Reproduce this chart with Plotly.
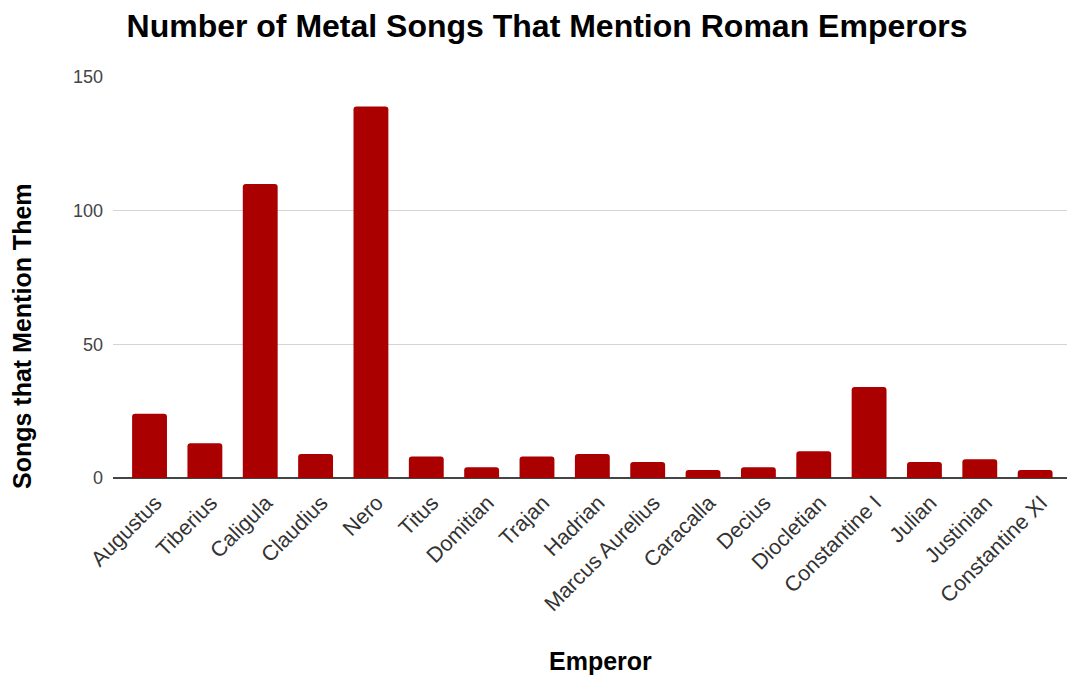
import plotly.graph_objects as go

emperors = ["Augustus", "Tiberius", "Caligula", "Claudius", "Nero", "Titus", "Domitian",
            "Trajan", "Hadrian", "Marcus Aurelius", "Caracalla", "Decius", "Diocletian",
            "Constantine I", "Julian", "Justinian", "Constantine XI"]
songs = [24, 13, 110, 9, 139, 8, 4, 8, 9, 6, 3, 4, 10, 34, 6, 7, 3]
y_ticks = [0, 50, 100, 150]

FONT = "Liberation Sans, Arial, sans-serif"
W, H = 1075, 675
ML, MR, MT, MB = 105, 8, 69, 205
PW, PH = W - ML - MR, H - MT - MB


def px(x):
    return (x - ML) / PW


def py(y):
    return (H - MB - y) / PH


fig = go.Figure(go.Bar(
    x=emperors, y=songs,
    marker=dict(color="#aa0000", line=dict(width=0), cornerradius=3),
))

fig.update_layout(
    width=W, height=H,
    margin=dict(l=ML, r=MR, t=MT, b=MB),
    paper_bgcolor="white", plot_bgcolor="white",
    bargap=0.37,
    showlegend=False,
    font=dict(family=FONT, color="#444444", size=16),
    title=dict(text="<b>Number of Metal Songs That Mention Roman Emperors</b>",
               x=539 / W, xanchor="center", y=1 - 18 / H, yanchor="middle",
               font=dict(family=FONT, size=32, color="#000000")),
    xaxis=dict(range=[-0.66, 16.72], tickangle=-45, showgrid=False,
               showline=False, ticks="", ticklabelstandoff=7, ticklabelshift=6,
               tickfont=dict(size=21.5, color="#333333")),
    yaxis=dict(range=[0, 150], tickvals=y_ticks, showgrid=True, gridcolor="#d4d4d4",
               gridwidth=1, zeroline=True, zerolinecolor="#444444", zerolinewidth=1.5,
               ticks="", ticklabelstandoff=9,
               tickfont=dict(size=18, color="#444444"), showline=False),
    annotations=[
        dict(text="<b>Songs that Mention Them</b>", x=px(14), y=py(328),
             xref="paper", yref="paper", xanchor="center", yanchor="middle",
             showarrow=False, textangle=-90,
             font=dict(family=FONT, size=25, color="#000000")),
        dict(text="<b>Emperor</b>", x=px(592), y=py(653),
             xref="paper", yref="paper", xanchor="center", yanchor="middle",
             showarrow=False,
             font=dict(family=FONT, size=25, color="#000000")),
    ],
)

fig.write_html("out.html")
